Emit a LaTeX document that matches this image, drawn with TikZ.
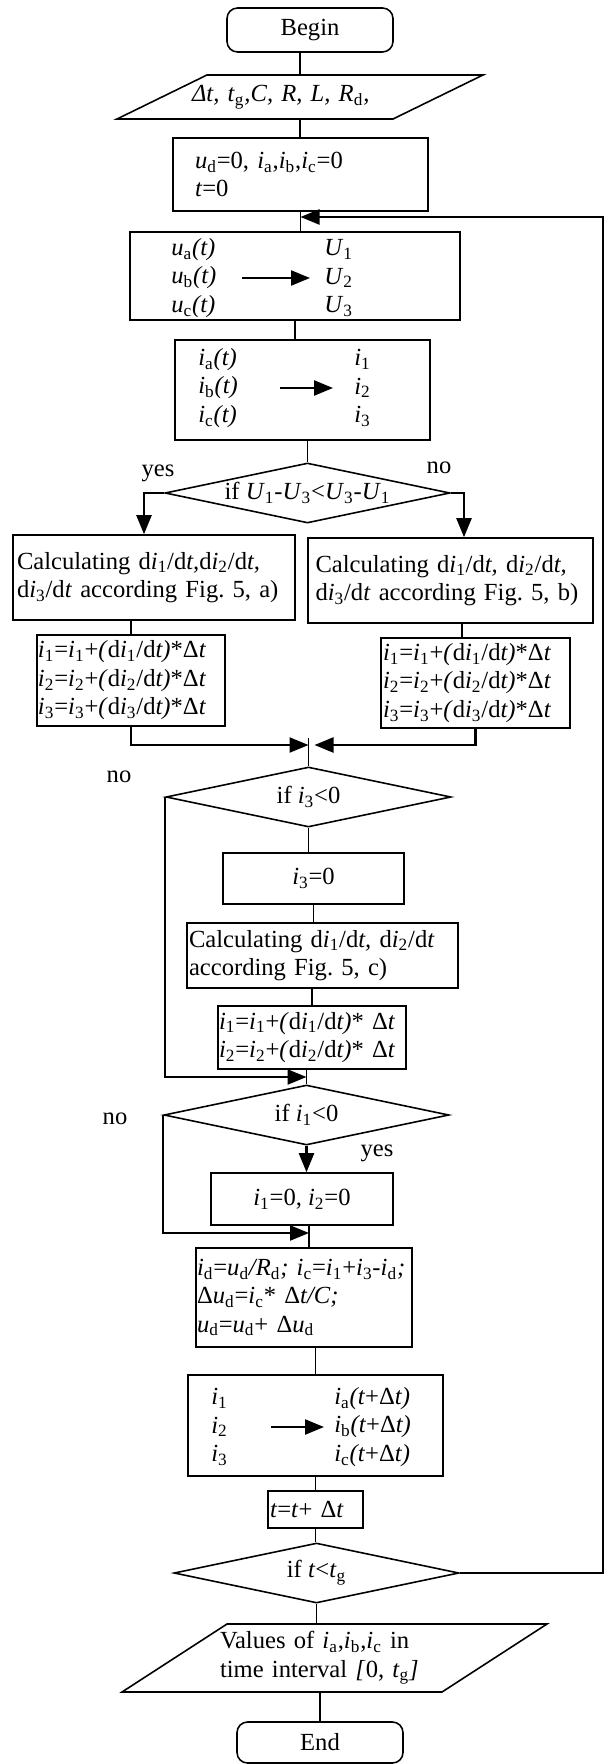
\documentclass[tikz,border=0pt]{standalone}
\usepackage{fontspec}
\setmainfont{Liberation Serif}
\usetikzlibrary{shapes.geometric,arrows.meta}
\frenchspacing

\newcommand{\vi}[1]{\textit{i}\textsubscript{#1}}
\newcommand{\vu}[1]{\textit{u}\textsubscript{#1}}
\newcommand{\vU}[1]{\textit{U}\textsubscript{#1}}

\begin{document}
\begin{tikzpicture}[
        every node/.style={font=\fontsize{14}{16.2}\selectfont},
        term/.style={draw, rounded corners=6pt, line width=0.9pt, minimum width=3.32cm},
        blk/.style={draw, line width=0.9pt, align=left, inner ysep=0pt},
        io/.style={inner xsep=0pt, outer sep=0pt, align=left},
        frame/.style={line width=0.9pt},
        dec/.style={draw, diamond, aspect=4.7, inner sep=0pt, line width=0.9pt,
                    minimum width=5.7cm, minimum height=1.2cm},
        col/.style={align=left, inner sep=0pt, anchor=west},
        arr/.style={-{Triangle[length=0.38cm,width=0.3cm]}, line width=1.3pt},
        line/.style={line width=0.9pt}
    ]
        \useasboundingbox (0,0) rectangle (12.08,-35.28);

        % ── Start, inputs, initial values ───────────────────────────────
        \node[term, minimum height=0.88cm] (begin) at (6.2, -0.6) {Begin};
        \node[io, minimum width=7.32cm, minimum height=0.88cm, text width=4.32cm] (input) at (6.0, -1.94)
              {\textit{Δt, t}\textsubscript{g}\textit{,C, R, L, R}\textsubscript{d}\textit{,}};
        \draw[frame] (input.south west) -- ++(5.52,0) -- (input.north east) -- ++(-5.52,0) -- cycle;
        \node[blk, text width=4.22cm, inner xsep=0.44cm, minimum height=1.46cm] (init) at (6.01, -3.49)
              {\vu{d}=0, \vi{a},\vi{b},\vi{c}=0\\ \textit{t}=0};

        % ── Sampling boxes ────────────────────────────────────────────────
        \node[blk, minimum width=6.6cm, minimum height=1.76cm] (ubox) at (5.9, -5.52) {};
        \node[col] (uin)  at (3.42, -5.56) {\vu{a}\textit{(t)}\\ \vu{b}\textit{(t)}\\ \vu{c}\textit{(t)}};
        \node[col] (uout) at (6.48, -5.56) {\vU{1}\\ \vU{2}\\ \vU{3}};
        \draw[arr] ([xshift=0.5cm]uin.east) -- ([xshift=-0.28cm]uout.west);

        \node[blk, minimum width=5.1cm, minimum height=2.0cm] (ibox) at (6.05, -7.8) {};
        \node[col] (iin)  at (3.96, -7.76) {\vi{a}\textit{(t)}\\ \vi{b}\textit{(t)}\\ \vi{c}\textit{(t)}};
        \node[col] (iout) at (7.08, -7.76) {\vi{1}\\ \vi{2}\\ \vi{3}};
        \draw[arr] ([xshift=0.84cm]iin.east) -- ([xshift=-0.42cm]iout.west);

        % ── First decision and the two branches ──────────────────────────
        \node[dec] (dec1) at (6.15, -9.86) {if \vU{1}-\vU{3}<\vU{3}-\vU{1}};
        \node (yes1) at (3.16, -9.46) {yes};
        \node (no1)  at (8.78, -9.36) {no};

        \node[blk, text width=5.48cm, inner xsep=0.08cm, minimum height=1.7cm] (calcA) at (3.08, -11.55)
              {Calculating d\vi{1}/d\textit{t,}d\vi{2}/d\textit{t,}\\ d\vi{3}/d\textit{t} according Fig. 5, a)};
        \node[blk, text width=5.4cm, inner xsep=0.15cm, minimum height=1.7cm] (calcB) at (9.01, -11.61)
              {Calculating d\vi{1}/d\textit{t,} d\vi{2}/d\textit{t,}\\ d\vi{3}/d\textit{t} according Fig. 5, b)};
        \node[blk, text width=3.72cm, inner xsep=0.02cm, minimum height=1.82cm] (eqA) at (2.62, -13.61)
              {\vi{1}=\vi{1}+\textit{(}d\vi{1}/d\textit{t)}*Δ\textit{t}\\
               \vi{2}=\vi{2}+\textit{(}d\vi{2}/d\textit{t)}*Δ\textit{t}\\
               \vi{3}=\vi{3}+\textit{(}d\vi{3}/d\textit{t)}*Δ\textit{t}};
        \node[blk, text width=3.7cm, inner xsep=0.04cm, minimum height=1.8cm] (eqB) at (9.51, -13.66)
              {\vi{1}=\vi{1}+\textit{(}d\vi{1}/d\textit{t)}*Δ\textit{t}\\
               \vi{2}=\vi{2}+\textit{(}d\vi{2}/d\textit{t)}*Δ\textit{t}\\
               \vi{3}=\vi{3}+\textit{(}d\vi{3}/d\textit{t)}*Δ\textit{t}};

        % ── i3 check ─────────────────────────────────────────────────────
        \node[dec] (dec2) at (6.17, -15.94) {if \vi{3}<0};
        \node (no2) at (2.38, -15.54) {no};
        \node[blk, minimum width=3.62cm, minimum height=1.02cm] (i3z) at (6.27, -17.57) {\vi{3}=0};
        \node[blk, text width=5.34cm, inner xsep=0.04cm, minimum height=1.3cm] (calcC) at (6.45, -19.11)
              {Calculating d\vi{1}/d\textit{t,} d\vi{2}/d\textit{t}\\ according Fig. 5, c)};
        \node[blk, text width=3.72cm, inner xsep=0.02cm, minimum height=1.26cm] (eqC) at (6.24, -20.75)
              {\vi{1}=\vi{1}+\textit{(}d\vi{1}/d\textit{t)}* Δ\textit{t}\\
               \vi{2}=\vi{2}+\textit{(}d\vi{2}/d\textit{t)}* Δ\textit{t}};

        % ── i1 check ─────────────────────────────────────────────────────
        \node[dec] (dec3) at (6.13, -22.3) {if \vi{1}<0};
        \node (no3)  at (2.3, -22.38) {no};
        \node (yes3) at (7.54, -23.06) {yes};
        \node[blk, minimum width=3.64cm, minimum height=1.04cm] (i12) at (6.04, -23.98) {\vi{1}=0, \vi{2}=0};

        % ── Update and output of the step ────────────────────────────────
        \node[blk, text width=4.28cm, inner xsep=0.02cm, minimum height=1.98cm] (upd) at (6.08, -25.95)
              {\vi{d}=\vu{d}\textit{/R}\textsubscript{d}\textit{;} \vi{c}=\vi{1}+\vi{3}-\vi{d}\textit{;}\\
               Δ\vu{d}=\vi{c}* Δ\textit{t/C;}\\
               \vu{d}=\vu{d}+ Δ\vu{d}};
        \node[blk, minimum width=5.1cm, minimum height=2.02cm] (outb) at (6.31, -28.51) {};
        \node[col] (oin)  at (4.22, -28.54) {\vi{1}\\ \vi{2}\\ \vi{3}};
        \node[col] (oout) at (6.68, -28.54)
              {\vi{a}\textit{(t}+Δ\textit{t)}\\ \vi{b}\textit{(t}+Δ\textit{t)}\\ \vi{c}\textit{(t}+Δ\textit{t)}};
        \draw[arr] ([xshift=0.86cm]oin.east) -- ([xshift=-0.2cm]oout.west);
        \node[blk, text width=1.82cm, inner xsep=0.04cm, minimum height=0.74cm] (tbox) at (6.31, -30.19)
              {\textit{t}=\textit{t}+ Δ\textit{t}};

        % ── Time check, results, end ─────────────────────────────────────
        \node[dec] (dec4) at (6.33, -31.46) {if \textit{t}<\textit{t}\textsubscript{g}};
        \node[io, minimum width=8.5cm, minimum height=1.36cm, text width=4.58cm] (output) at (6.69, -33.16)
              {Values of \vi{a},\vi{b},\vi{c} in\\ time interval \textit{[}0, \textit{t}\textsubscript{g}\textit{]}};
        \draw[frame] (output.south west) -- ++(6.4,0) -- (output.north east) -- ++(-6.4,0) -- cycle;
        \node[term, minimum height=0.82cm] (finish) at (6.4, -34.85) {End};

        % ── Straight connectors ──────────────────────────────────────────
        \draw[line] (input.north |- begin.south) -- (input.north);
        \draw[line] (input.south) -- (input.south |- init.north);
        \draw[line] (init.south) -- (init.south |- ubox.north);
        \draw[line] (ubox.south) -- (ubox.south |- ibox.north);
        \draw[line] (dec1.north |- ibox.south) -- (dec1.north);
        \draw[line] (eqA.north |- calcA.south) -- (eqA.north);
        \draw[line] ([xshift=-0.27cm]eqB.north |- calcB.south) -- ([xshift=-0.27cm]eqB.north);
        \draw[line] (dec2.south) -- (dec2.south |- i3z.north);
        \draw[line] (i3z.south) -- (i3z.south |- calcC.north);
        \draw[line] (eqC.north |- calcC.south) -- (eqC.north);
        \draw[line] (dec3.north |- eqC.south) -- (dec3.north);
        \draw[line] (outb.north |- upd.south) -- (outb.north);
        \draw[line] (outb.south) -- (outb.south |- tbox.north);
        \draw[line] (tbox.south) -- (tbox.south |- dec4.north);
        \draw[line] (dec4.south) -- (dec4.south |- output.north);
        \draw[line] (finish.north |- output.south) -- (finish.north);

        % ── yes / no branches of the first decision ──────────────────────
        \draw[arr] (dec1.west) -| ([xshift=-0.2cm]calcA.north);
        \draw[arr] (dec1.east) -| ([xshift=0.27cm]calcB.north);

        % ── merge after the branches
        \coordinate (j1) at (6.17, -14.9);
        \draw[arr] (eqA.south) |- (j1);
        \draw[arr] (eqB.south) |- ([xshift=0.12cm]j1);
        \draw[line] ([yshift=0.14cm]j1) -- (dec2.north);

        % ── "no" bypasses on the left
        \coordinate (j2) at (6.13, -21.54);
        \draw[arr] (dec2.west) |- (j2);
        \draw[arr] (dec3.south) -- (dec3.south |- i12.north);
        \coordinate (j3) at (6.18, -24.66);
        \draw[arr] (dec3.west) |- (j3);
        \draw[line] (j3 |- i12.south) -- (j3 |- upd.north);

        % ── time loop back up the right side
        \coordinate (jl)  at (6.01, -4.34);
        \coordinate (rgt) at (12.06, -4.34);
        \draw[arr] (dec4.east) -| (rgt) -- (jl);

    \end{tikzpicture}
\end{document}
